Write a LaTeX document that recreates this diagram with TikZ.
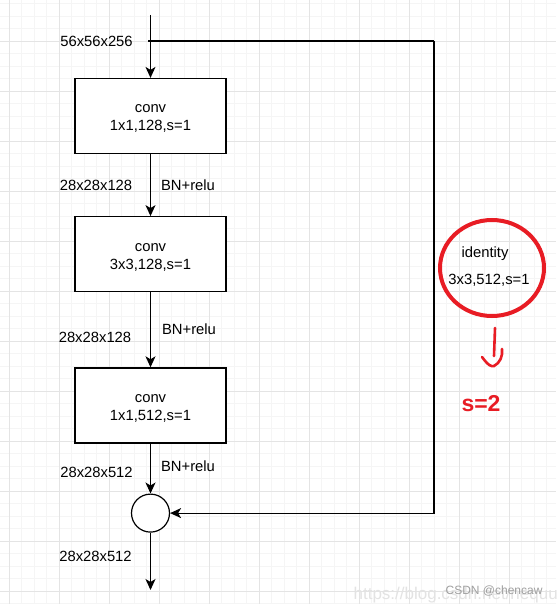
\documentclass[tikz,border=0pt]{standalone}
\usepackage{fontspec}
\setmainfont{Liberation Sans}
\usetikzlibrary{arrows.meta,positioning,shapes.geometric}
\definecolor{gridminor}{RGB}{245,245,245}
\definecolor{gridmajor}{RGB}{228,228,228}
\definecolor{idred}{RGB}{232,28,36}
\tikzset{
  convbox/.style={draw,fill=white,minimum width=151pt,minimum height=75pt,inner sep=0pt,align=center,
    text height=33pt,text depth=3pt},
  sumnode/.style={draw,circle,fill=white,minimum size=38pt,inner sep=0pt},
}

\begin{document}
\begin{tikzpicture}[x=1pt,y=-1pt,>={Stealth[length=11pt,width=10pt,inset=3pt]},line width=1.2pt,
    font=\fontsize{14.8}{18}\selectfont]
  \useasboundingbox (0,0) rectangle (556,604);
  \fill[white] (0,0) rectangle (556,604);
  % background grid
  \foreach \k in {0,...,44} \draw[gridminor,line width=.8pt] (9+12.5*\k,0) -- (9+12.5*\k,604);
  \foreach \k in {0,...,48} \draw[gridminor,line width=.8pt] (0,3.5+12.5*\k) -- (556,3.5+12.5*\k);
  \foreach \k in {0,...,10} \draw[gridmajor,line width=.8pt] (9+50*\k,0) -- (9+50*\k,604);
  \foreach \k in {1,...,12} \draw[gridmajor,line width=.8pt] (0,-9+50*\k) -- (556,-9+50*\k);

  % main path
  \node[convbox] (c1) at (150.5,116) {conv\\1x1,128,s=1};
  \node[convbox,below=62pt of c1] (c2) {conv\\3x3,128,s=1};
  \node[convbox,below=75pt of c2] (c3) {conv\\1x1,512,s=1};
  \node[sumnode,below=50pt of c3] (add) {};
  \coordinate (in) at (150.5,15); \coordinate (split) at (148,41);
  \coordinate (turn) at (434,41); \coordinate (out) at (150.5,590);
  \draw[->] (in)--(c1); \draw[->] (c1)--(c2); \draw[->] (c2)--(c3);
  \draw[->] (c3)--(add); \draw[->] (add)--(out);
  \draw (split)--(turn); \draw[->] (turn)|-(add);

  % sizes and activations
  \node (d0) at (96.5,41) {56x56x256};
  \node (d1) at (96,185) {28x28x128}; \node (bn1) at (188,185) {BN+relu};
  \node (d2) at (95,337) {28x28x128}; \node (bn2) at (189,329) {BN+relu};
  \node (d3) at (96.5,472) {28x28x512}; \node (bn3) at (188,466) {BN+relu};
  \node (d4) at (95.5,556) {28x28x512};

  % identity branch note
  \node[draw=idred,line width=4pt,ellipse,minimum width=104pt,minimum height=96pt] (idring) at (492,268) {};
  \node (idname) at (485,254) {identity};
  \node (idconv) at (489,280) {3x3,512,s=1};
  \draw[idred,line width=2.6pt,line cap=round] (495,328)--(494,356);
  \draw[idred,line width=2.6pt,line cap=round] (482,357) .. controls (488,365) and (491,367) .. (494,366)
    .. controls (500,363) and (503,356) .. (502,349);
  \node[text=idred,font=\fontsize{23}{27}\bfseries\selectfont] (stride) at (481,404) {s=2};

  % watermark
  \node[text=gray!22,font=\fontsize{17}{20}\selectfont,anchor=base west,inner sep=0pt] (url) at (353,599.5) {https://blog.csdn.net/nequu};
  \node[text=gray!75,font=\fontsize{12}{14}\selectfont,anchor=base west,inner sep=0pt] (mark) at (445,594) {CSDN @chencaw};
\end{tikzpicture}
\end{document}
